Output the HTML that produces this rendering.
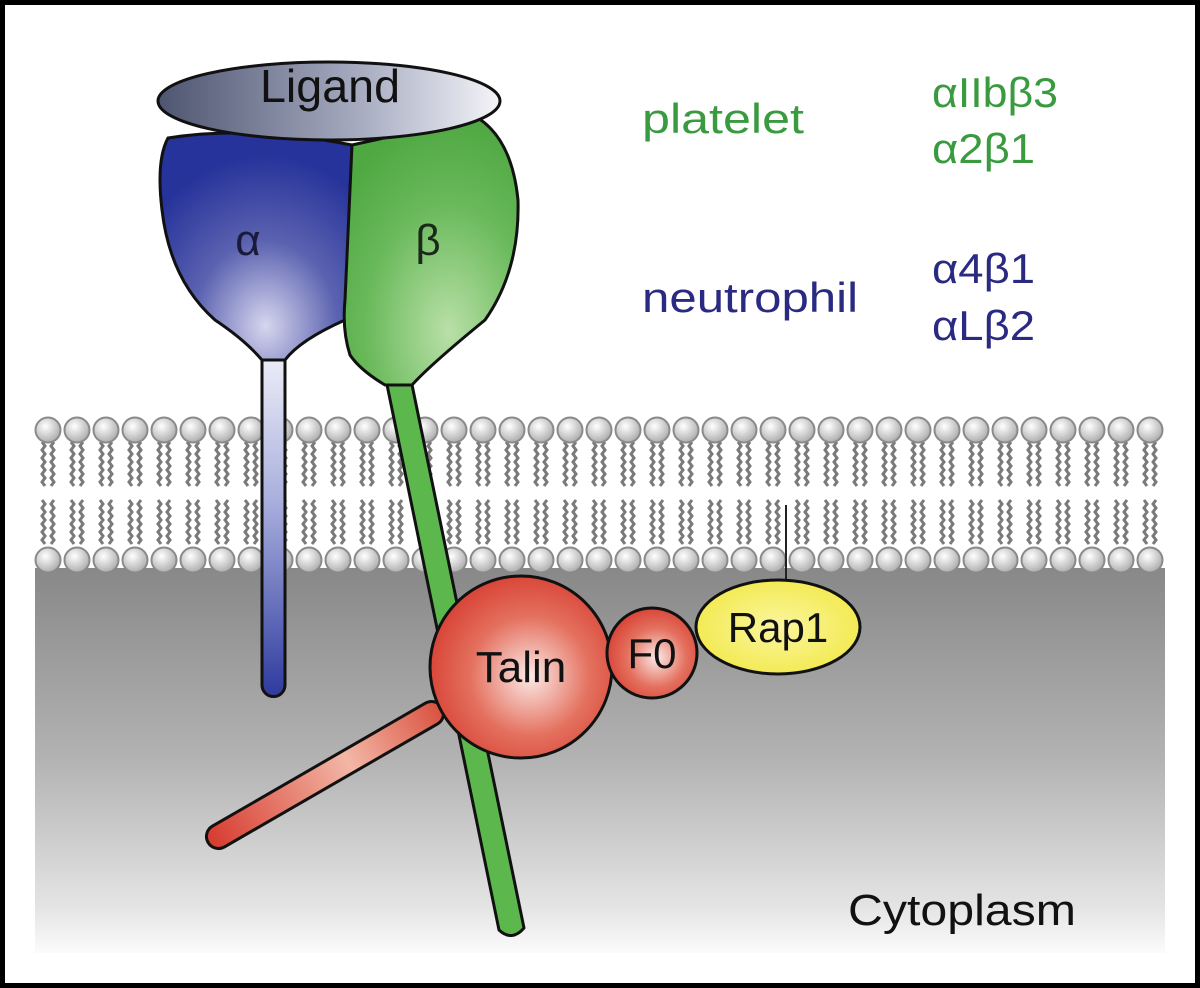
<!DOCTYPE html>
<html><head><meta charset="utf-8"><style>
html,body{margin:0;padding:0;background:#fff}
svg{display:block}
text{font-family:"Liberation Sans","DejaVu Sans",sans-serif}
</style></head><body>
<svg width="1200" height="988" viewBox="0 0 1200 988" xmlns="http://www.w3.org/2000/svg">
<defs>
<linearGradient id="cyto" x1="0" y1="0" x2="0" y2="1">
<stop offset="0" stop-color="#888888"/><stop offset="0.5" stop-color="#b3b3b3"/><stop offset="0.88" stop-color="#e4e4e4"/><stop offset="1" stop-color="#fbfbfb"/></linearGradient>
<radialGradient id="head" cx="0.4" cy="0.35" r="0.7"><stop offset="0" stop-color="#ffffff"/><stop offset="1" stop-color="#a8a8a8"/></radialGradient>
<linearGradient id="lig" x1="0" y1="0" x2="1" y2="0"><stop offset="0" stop-color="#4e5570"/><stop offset="0.6" stop-color="#a8adc2"/><stop offset="1" stop-color="#f4f4f8"/></linearGradient>
<radialGradient id="alpha" cx="0.55" cy="0.85" r="0.75"><stop offset="0" stop-color="#d6d6ee"/><stop offset="0.5" stop-color="#5b62b0"/><stop offset="1" stop-color="#26339a"/></radialGradient>
<linearGradient id="astem" x1="0" y1="0" x2="0" y2="1"><stop offset="0" stop-color="#f2f2fa"/><stop offset="0.45" stop-color="#a8aedc"/><stop offset="1" stop-color="#2e3a9e"/></linearGradient>
<radialGradient id="beta" cx="0.6" cy="0.8" r="0.8"><stop offset="0" stop-color="#b9e0a8"/><stop offset="0.6" stop-color="#69b95a"/><stop offset="1" stop-color="#4fa842"/></radialGradient>
<radialGradient id="red" cx="0.55" cy="0.55" r="0.55"><stop offset="0" stop-color="#fbe9e6"/><stop offset="0.6" stop-color="#e4705e"/><stop offset="1" stop-color="#d9473a"/></radialGradient>
<linearGradient id="rod" x1="0" y1="0" x2="1" y2="0"><stop offset="0" stop-color="#d63a2e"/><stop offset="0.6" stop-color="#f3b7a6"/><stop offset="1" stop-color="#d9503e"/></linearGradient>
<radialGradient id="yel" cx="0.5" cy="0.5" r="0.6"><stop offset="0" stop-color="#fbf6a0"/><stop offset="1" stop-color="#f1e845"/></radialGradient>
<g id="lip">
<path d="M-6 442 l3 4 l-3 4 l3 4 l-3 4 l3 4 l-3 4 l3 4 l-3 4 l3 4 l-3 4 l3 4 M6 442 l-3 4 l3 4 l-3 4 l3 4 l-3 4 l3 4 l-3 4 l3 4 l-3 4 l3 4 l-3 4 M-6 500 l3 4 l-3 4 l3 4 l-3 4 l3 4 l-3 4 l3 4 l-3 4 l3 4 l-3 4 l3 4 M6 500 l-3 4 l3 4 l-3 4 l3 4 l-3 4 l3 4 l-3 4 l3 4 l-3 4 l3 4 l-3 4" fill="none" stroke="#7a7a7a" stroke-width="3"/>
<circle cx="0" cy="430" r="12.5" fill="url(#head)" stroke="#8a8a8a" stroke-width="2"/>
<circle cx="0" cy="560" r="12.5" fill="url(#head)" stroke="#8a8a8a" stroke-width="2"/>
</g>
</defs>
<rect x="0" y="0" width="1200" height="988" fill="#000"/>
<rect x="5" y="5" width="1190" height="978" fill="#fff"/>
<rect x="35" y="568" width="1130" height="385" fill="url(#cyto)"/>
<g>
<use href="#lip" x="48"/><use href="#lip" x="77"/><use href="#lip" x="106"/><use href="#lip" x="135"/><use href="#lip" x="164"/><use href="#lip" x="193"/><use href="#lip" x="222"/><use href="#lip" x="251"/><use href="#lip" x="280"/><use href="#lip" x="309"/><use href="#lip" x="338"/><use href="#lip" x="367"/><use href="#lip" x="396"/><use href="#lip" x="425"/><use href="#lip" x="454"/><use href="#lip" x="483"/><use href="#lip" x="512"/><use href="#lip" x="541"/><use href="#lip" x="570"/><use href="#lip" x="599"/><use href="#lip" x="628"/><use href="#lip" x="657"/><use href="#lip" x="686"/><use href="#lip" x="715"/><use href="#lip" x="744"/><use href="#lip" x="773"/><use href="#lip" x="802"/><use href="#lip" x="831"/><use href="#lip" x="860"/><use href="#lip" x="889"/><use href="#lip" x="918"/><use href="#lip" x="947"/><use href="#lip" x="976"/><use href="#lip" x="1005"/><use href="#lip" x="1034"/><use href="#lip" x="1063"/><use href="#lip" x="1092"/><use href="#lip" x="1121"/><use href="#lip" x="1150"/>
</g>
<line x1="786" y1="505" x2="786" y2="585" stroke="#222" stroke-width="2"/>
<path d="M262 355 L262 685 A11.5 11.5 0 0 0 285 685 L285 345 Z" fill="url(#astem)" stroke="#111" stroke-width="3"/>
<path d="M168 138 Q250 125 352 145 L345 320 Q300 340 285 360 L262 360 Q245 340 215 320 Q170 280 162 210 Q156 160 168 138 Z" fill="url(#alpha)" stroke="#111" stroke-width="3"/>
<path d="M385 375 L499 930 Q512 942 524 928 L410 375 Z" fill="#5cb84d" stroke="#111" stroke-width="3" stroke-linejoin="round"/>
<path d="M352 145 Q420 130 478 118 Q512 140 518 200 Q520 270 485 320 Q430 365 412 385 L385 385 Q360 370 350 355 Q342 330 345 300 Z" fill="url(#beta)" stroke="#111" stroke-width="3" stroke-linejoin="round"/>
<ellipse cx="329" cy="101" rx="171" ry="39" fill="url(#lig)" stroke="#111" stroke-width="3"/>
<text x="260" y="102" font-size="46" fill="#111" textLength="140" lengthAdjust="spacingAndGlyphs">Ligand</text>
<text x="248" y="255" font-size="44" text-anchor="middle" fill="#1a1a3a" font-family="Liberation Serif,serif">α</text>
<text x="428" y="255" font-size="44" text-anchor="middle" fill="#1a2a1a" font-family="Liberation Serif,serif">β</text>
<g transform="rotate(-30 325 775)">
<rect x="190" y="763" width="270" height="24" rx="12" fill="url(#rod)" stroke="#111" stroke-width="3"/>
</g>
<circle cx="521" cy="667" r="91" fill="url(#red)" stroke="#111" stroke-width="3"/>
<text x="521" y="682" font-size="44" text-anchor="middle" fill="#111">Talin</text>
<ellipse cx="652" cy="653" rx="45" ry="45" fill="url(#red)" stroke="#111" stroke-width="3"/>
<text x="652" y="668" font-size="42" text-anchor="middle" fill="#111">F0</text>
<ellipse cx="778" cy="627" rx="82" ry="47" fill="url(#yel)" stroke="#111" stroke-width="3"/>
<text x="778" y="642" font-size="42" text-anchor="middle" fill="#111">Rap1</text>
<text x="642" y="133" font-size="42" fill="#3a9a3f" textLength="162" lengthAdjust="spacingAndGlyphs">platelet</text>
<text x="932" y="107" font-size="42" fill="#3a9a3f" textLength="126" lengthAdjust="spacingAndGlyphs">αIIbβ3</text>
<text x="932" y="163" font-size="42" fill="#3a9a3f" textLength="103" lengthAdjust="spacingAndGlyphs">α2β1</text>
<text x="642" y="312" font-size="42" fill="#2b2a82" textLength="216" lengthAdjust="spacingAndGlyphs">neutrophil</text>
<text x="932" y="283" font-size="42" fill="#2b2a82" textLength="103" lengthAdjust="spacingAndGlyphs">α4β1</text>
<text x="932" y="340" font-size="42" fill="#2b2a82" textLength="103" lengthAdjust="spacingAndGlyphs">αLβ2</text>
<text x="848" y="925" font-size="44" fill="#111" textLength="228" lengthAdjust="spacingAndGlyphs">Cytoplasm</text>
</svg>
</body></html>
